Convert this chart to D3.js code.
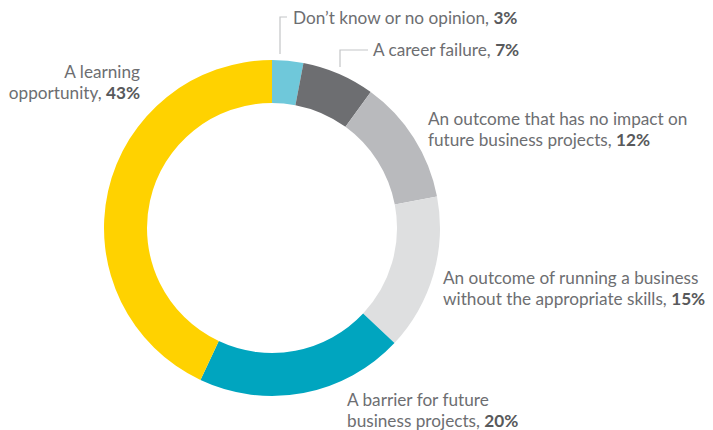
<!DOCTYPE html>
<html>
<head>
<meta charset="utf-8">
<script src="https://cdn.jsdelivr.net/npm/d3@7/dist/d3.min.js"></script>
<style>
  html, body { margin: 0; padding: 0; background: #fff; }
  svg { display: block; }
  text { font-family: Lato, "Open Sans", sans-serif; fill: #6d6e71; }
</style>
</head>
<body>
<svg id="chart" width="713" height="430"></svg>
<script>
// Survey answers, clockwise from 12 o'clock
const categories = [
  "Don\u2019t know or no opinion",
  "A career failure",
  "An outcome that has no impact on future business projects",
  "An outcome of running a business without the appropriate skills",
  "A barrier for future business projects",
  "A learning opportunity"
];
const values = [3, 7, 12, 15, 20, 43];
const colors = ["#6fc8da", "#6d6e71", "#b9babd", "#dedfe0", "#00a5bf", "#ffd200"];

// Label text split into lines; the last line carries the bold percentage
const labelLines = [
  ["Don\u2019t know or no opinion, "],
  ["A career failure, "],
  ["An outcome that has no impact on", "future business projects, "],
  ["An outcome of running a business", "without the appropriate skills, "],
  ["A barrier for future", "business projects, "],
  ["A learning", "opportunity, "]
];

const svg = d3.select("#chart");
const cx = 272, cy = 228, outerR = 168, innerR = 125;

const pie = d3.pie().sort(null).value(d => d)(values);
const arc = d3.arc().innerRadius(innerR).outerRadius(outerR);

const g = svg.append("g").attr("transform", `translate(${cx},${cy})`);
g.selectAll("path").data(pie).join("path")
  .attr("d", arc)
  .attr("fill", (d, i) => colors[i]);

// Label placement: anchor point and text alignment
const labelPos = [
  { x: 293, y: 24, anchor: "start" },
  { x: 373, y: 56, anchor: "start" },
  { x: 428, y: 125, anchor: "start" },
  { x: 443, y: 284, anchor: "start" },
  { x: 347, y: 406, anchor: "start" },
  { x: 140, y: 78, anchor: "end" }
];
const lineH = 20.8;

// one text element per line
labelLines.forEach((lines, i) => {
  const p = labelPos[i];
  lines.forEach((ln, j) => {
    const t = svg.append("text")
      .attr("x", p.x).attr("y", p.y + j * lineH)
      .attr("text-anchor", p.anchor)
      .style("font-size", "17.2px");
    t.append("tspan").text(ln);
    if (j === lines.length - 1) {
      t.append("tspan").style("font-weight", "700").style("fill", "#58595b").text(values[i] + "%");
    }
  });
});

// Leader lines for the two thin slices at the top
const leaderColor = "#c4c5c7";
const leaders = [
  { x: 280, y0: 54, y1: 17, x1: 287 },
  { x: 340, y0: 67, y1: 50, x1: 368 }
];
svg.selectAll("path.leader").data(leaders).join("path")
  .attr("class", "leader")
  .attr("d", d => `M${d.x},${d.y0}V${d.y1}H${d.x1}`)
  .attr("fill", "none")
  .attr("stroke", leaderColor)
  .attr("stroke-width", 1.2);
</script>
</body>
</html>
